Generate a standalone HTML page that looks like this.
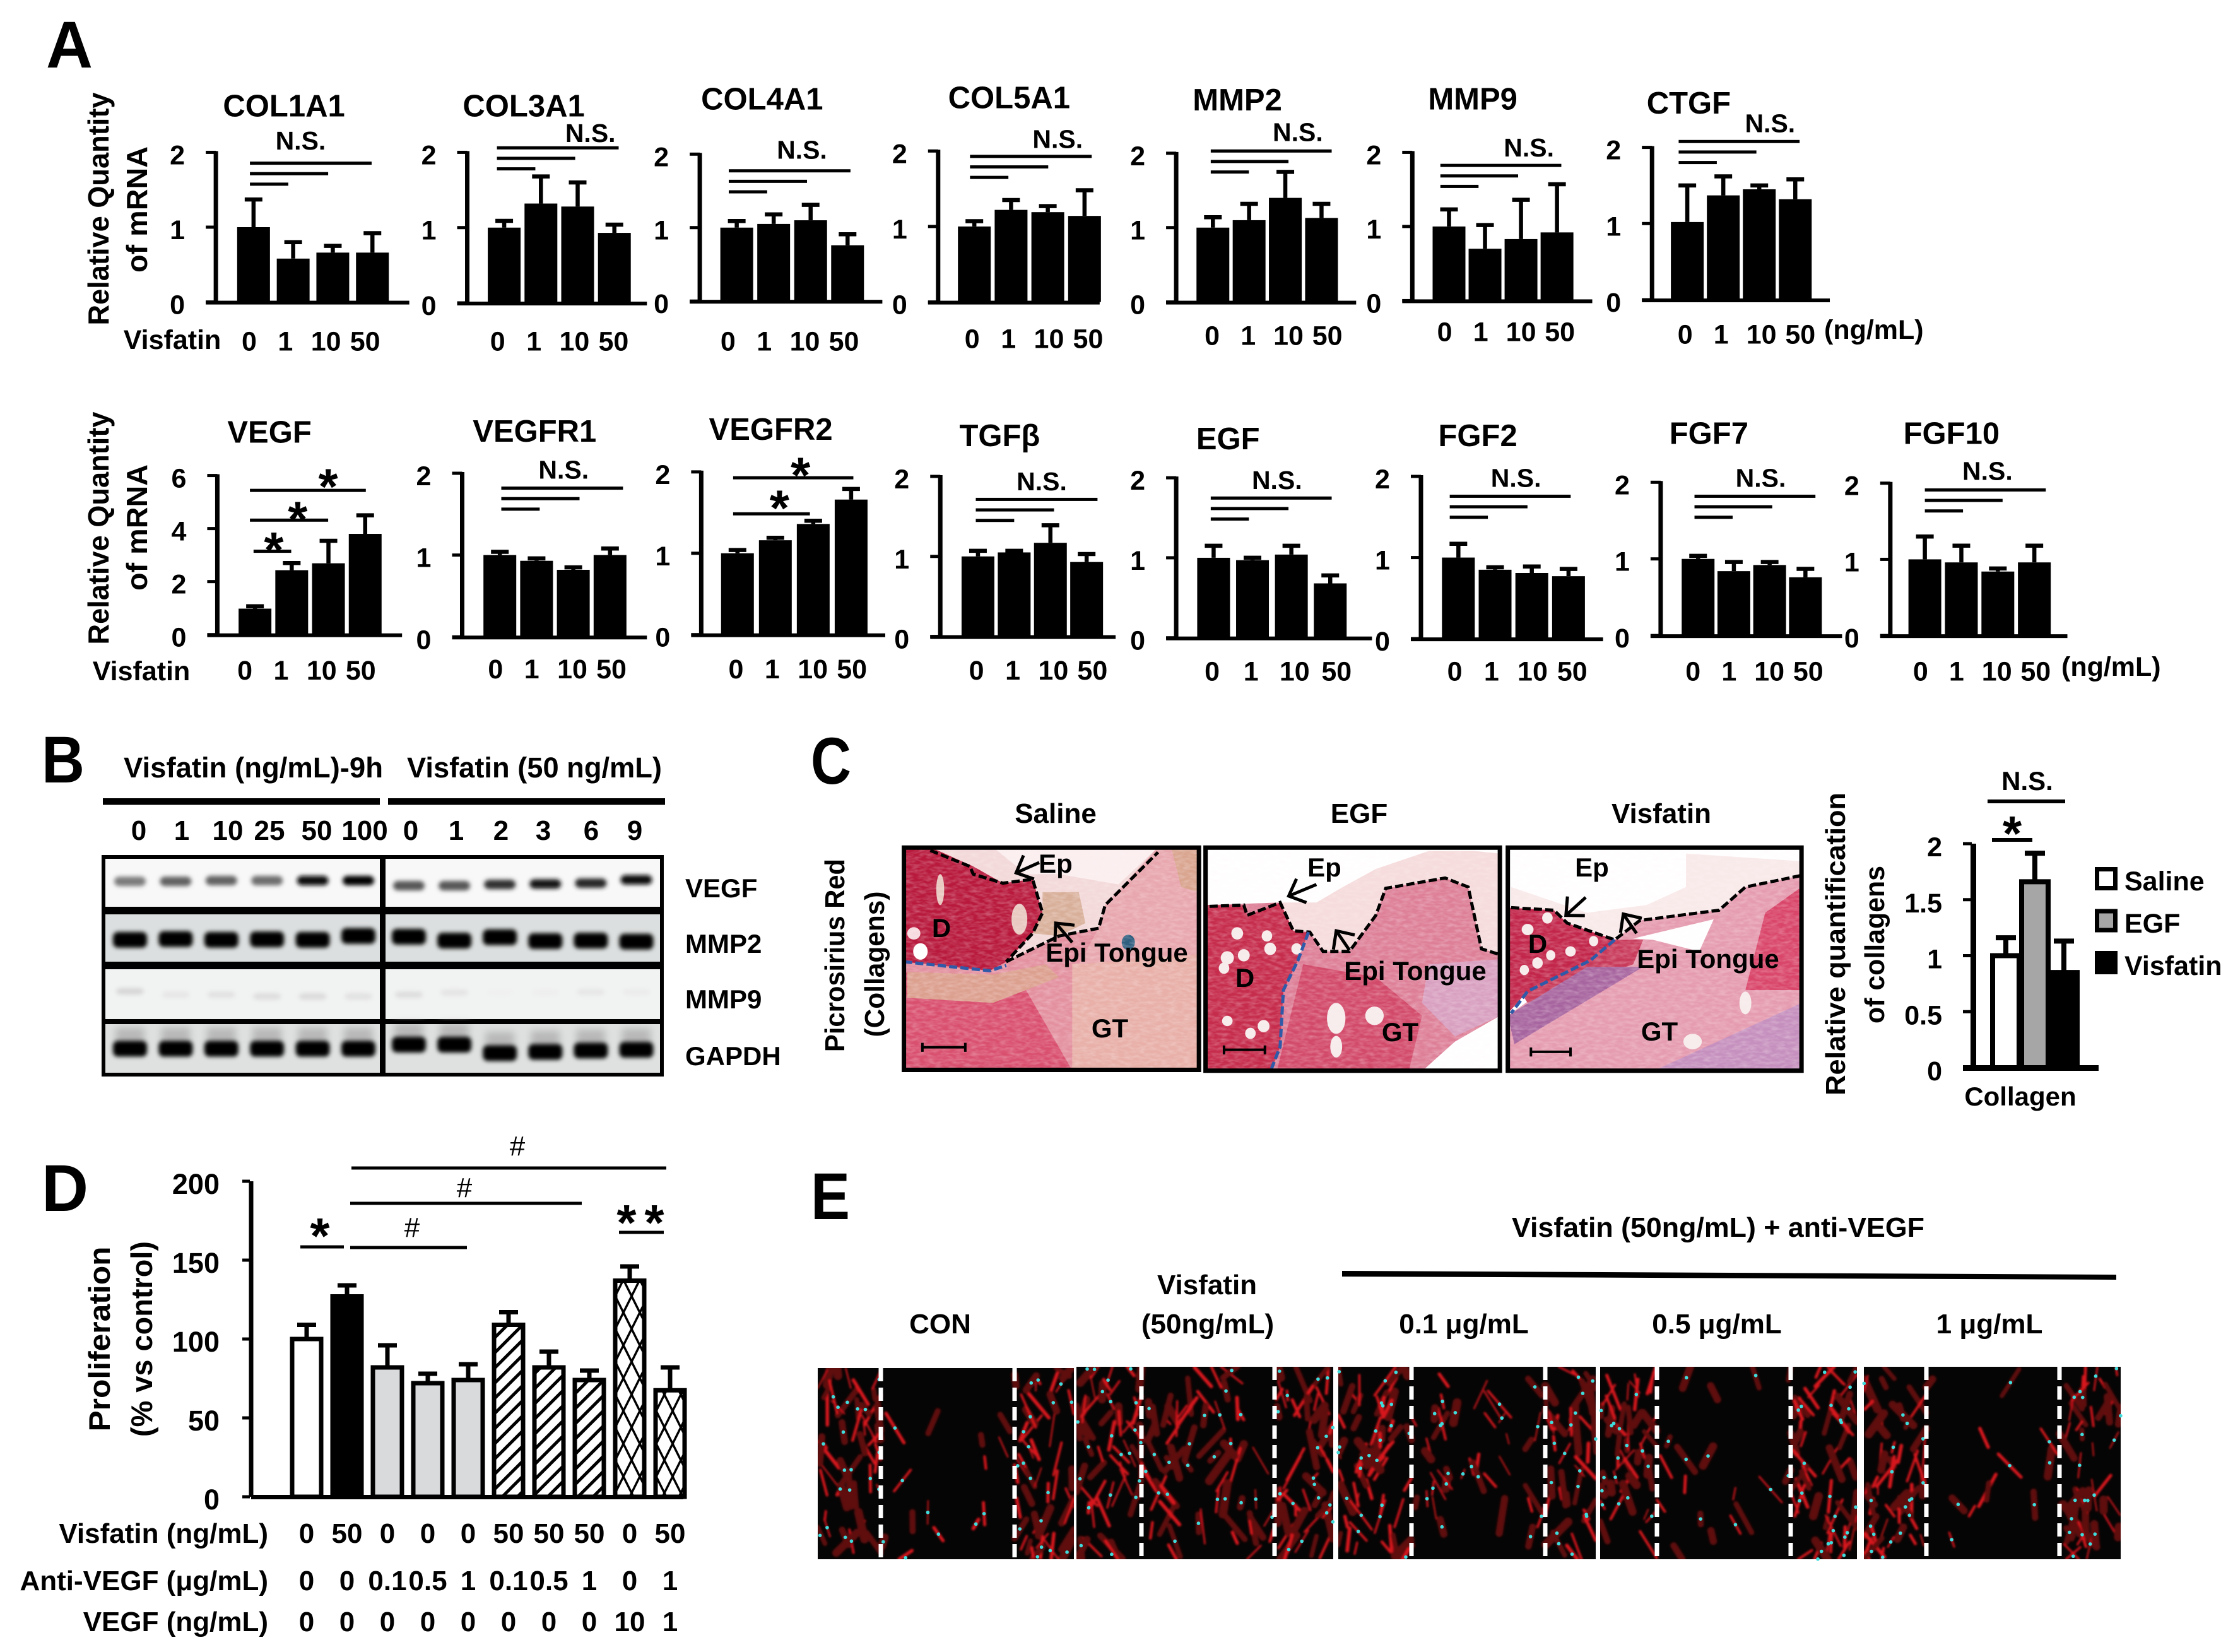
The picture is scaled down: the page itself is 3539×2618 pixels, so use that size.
<!DOCTYPE html>
<html lang="en">
<head>
<meta charset="utf-8">
<title>Visfatin figure</title>
<style>
html,body{margin:0;padding:0;background:#fff;overflow:hidden}
svg{display:block}
text{font-family:"Liberation Sans",sans-serif;font-weight:bold;fill:#000}
</style>
</head>
<body>
<svg id="figure" xmlns="http://www.w3.org/2000/svg" width="3539" height="2618" viewBox="0 0 3539 2618">
<defs>
  <pattern id="hatch" patternUnits="userSpaceOnUse" width="24" height="24">
    <path d="M-6 6L6 -6M-6 30L30 -6M18 30L30 18" stroke="#000" stroke-width="5" fill="none"/>
  </pattern>
  <pattern id="cross" patternUnits="userSpaceOnUse" width="26" height="52">
    <path d="M0 0L26 52M26 0L0 52" stroke="#000" stroke-width="3.5" fill="none"/>
  </pattern>
  <filter id="blur" x="-40%" y="-80%" width="180%" height="260%"><feGaussianBlur stdDeviation="3.5"/></filter>
  <filter id="smear" x="-40%" y="-80%" width="180%" height="260%"><feGaussianBlur stdDeviation="6"/></filter>
  <filter id="cellblur" x="0" y="0" width="100%" height="100%"><feGaussianBlur stdDeviation="1.6"/></filter>
  <filter id="tex" x="0" y="0" width="100%" height="100%">
    <feTurbulence type="fractalNoise" baseFrequency="0.09" numOctaves="2" seed="7"/>
    <feColorMatrix type="matrix" values="0 0 0 0 1  0 0 0 0 0.9  0 0 0 0 0.92  1.6 0 0 0 -0.55"/>
  </filter>
  <clipPath id="clip1"><rect x="165" y="545" width="447" height="867"/></clipPath>
  <clipPath id="clip2"><rect x="622" y="545" width="446" height="870"/></clipPath>
  <clipPath id="clip3"><rect x="1080" y="545" width="445" height="870"/></clipPath>
</defs>
<rect width="3539" height="2618" fill="#fff"/>

<!-- panel letters -->
<g>
  <text x="73" y="107" font-size="105" textLength="74" lengthAdjust="spacingAndGlyphs">A</text>
  <text x="66" y="1240" font-size="105" textLength="68" lengthAdjust="spacingAndGlyphs">B</text>
  <text x="1285" y="1242" font-size="105" textLength="64" lengthAdjust="spacingAndGlyphs">C</text>
  <text x="66" y="1919" font-size="105" textLength="74" lengthAdjust="spacingAndGlyphs">D</text>
  <text x="1285" y="1932" font-size="105" textLength="62" lengthAdjust="spacingAndGlyphs">E</text>
</g>

<!-- panel A -->
<g id="panelA"></g>

<!-- panel B -->
<g id="panelB">
  <text x="196" y="1232" font-size="45" textLength="411" lengthAdjust="spacingAndGlyphs">Visfatin (ng/mL)-9h</text>
  <text x="645" y="1232" font-size="45" textLength="404" lengthAdjust="spacingAndGlyphs">Visfatin (50 ng/mL)</text>
  <rect x="163" y="1265" width="439" height="10.5" fill="#000"/>
  <rect x="615" y="1265" width="439" height="10.5" fill="#000"/>
  <text x="1086" y="1422" font-size="42">VEGF</text>
  <text x="1086" y="1510" font-size="42">MMP2</text>
  <text x="1086" y="1598" font-size="42">MMP9</text>
  <text x="1086" y="1688" font-size="42">GAPDH</text>
</g>

<!-- panel C histology -->
<g id="panelC">
  <text x="1673" y="1304" font-size="44" text-anchor="middle">Saline</text>
  <text x="2154" y="1304" font-size="44" text-anchor="middle">EGF</text>
  <text x="2633" y="1304" font-size="44" text-anchor="middle">Visfatin</text>
  <text transform="translate(1338 1514) rotate(-90)" font-size="44" text-anchor="middle" textLength="306" lengthAdjust="spacingAndGlyphs">Picrosirius Red</text>
  <text transform="translate(1401 1528) rotate(-90)" font-size="44" text-anchor="middle" textLength="231" lengthAdjust="spacingAndGlyphs">(Collagens)</text>

  <g transform="translate(1260 1120) scale(1.046 0.40816)">
    <g clip-path="url(#clip1)">
      <rect x="165" y="545" width="447" height="867" fill="#e3909f"/>
      <polygon fill="#d9506f" points="165,1030 350,1100 420,1412 165,1412"/>
      <polygon fill="#dca08f" points="170,1030 300,1040 380,1000 400,1050 300,1150 170,1130"/>
      <polygon fill="#e8b0a8" points="420,1000 612,960 612,1412 420,1412"/>
      <polygon fill="#e8a7ae" points="550,545 612,545 612,960 430,1000 460,860 470,770"/>
      <polygon fill="#d9a58f" points="570,545 612,545 612,720 585,700"/>
      <polygon fill="#f3d9d9" points="205,545 550,545 470,770 460,860 400,890 320,990 360,880 375,800 360,670 315,685 265,620"/>
      <polygon fill="#fbeff0" points="300,545 550,545 490,690 400,650 350,650"/>
      <polygon fill="#d8b09a" points="375,720 430,720 440,840 400,890 360,880 375,800"/>
      <polygon fill="#b8193c" points="165,545 205,545 270,620 315,685 360,670 375,800 360,880 320,990 295,1025 165,990"/>
      <ellipse cx="220" cy="710" rx="6" ry="60" fill="#e8c8c0"/>
      <ellipse cx="340" cy="825" rx="12" ry="60" fill="#e8c8c0"/>
      <ellipse cx="190" cy="950" rx="11" ry="32" fill="#fff"/>
      <ellipse cx="180" cy="880" rx="10" ry="24" fill="#f6dce0"/>
      <ellipse cx="505" cy="915" rx="10" ry="30" fill="#2f5f7f"/>
      <rect x="165" y="545" width="447" height="867" filter="url(#tex)" opacity="0.35"/>
    </g>
    <g clip-path="url(#clip2)">
      <rect x="622" y="545" width="446" height="870" fill="#fff"/>
      <polygon fill="#f6dcdc" points="755,870 780,875 800,950 840,950 880,810 895,705 985,665 1020,700 1040,940 1068,960 1068,570 1030,560 960,560 880,630 830,700 790,760 735,760"/>
      <polygon fill="#dd7f97" points="625,770 735,760 755,870 780,875 800,950 840,950 880,810 895,705 985,665 1020,700 1040,940 1068,960 1068,1200 1000,1300 950,1415 622,1415"/>
      <polygon fill="#d24a6a" points="770,1000 880,1050 950,1200 930,1415 730,1415"/>
      <polygon fill="#d8a0c0" points="960,1000 1068,980 1068,1200 1000,1280 950,1150"/>
      <polygon fill="#c62c4c" points="622,770 680,770 685,810 735,760 755,870 778,875 762,985 740,1100 735,1320 722,1415 622,1415"/>
      <g fill="#f7ecec">
        <ellipse cx="670" cy="880" rx="9" ry="24"/><ellipse cx="715" cy="890" rx="8" ry="22"/>
        <ellipse cx="720" cy="940" rx="9" ry="24"/><ellipse cx="655" cy="975" rx="10" ry="26"/>
        <ellipse cx="680" cy="965" rx="9" ry="24"/><ellipse cx="650" cy="1015" rx="8" ry="22"/>
        <ellipse cx="710" cy="1240" rx="9" ry="24"/><ellipse cx="655" cy="1220" rx="8" ry="20"/>
        <ellipse cx="690" cy="1268" rx="8" ry="22"/><ellipse cx="760" cy="940" rx="8" ry="22"/>
        <ellipse cx="820" cy="1210" rx="14" ry="60"/><ellipse cx="878" cy="1200" rx="14" ry="36"/>
        <ellipse cx="820" cy="1320" rx="9" ry="42"/>
      </g>
      <rect x="622" y="545" width="446" height="870" filter="url(#tex)" opacity="0.35"/>
    </g>
    <g clip-path="url(#clip3)">
      <rect x="1080" y="545" width="445" height="870" fill="#fff"/>
      <polygon fill="#f9eaea" points="1085,700 1085,780 1150,790 1170,840 1242,905 1280,830 1400,790 1440,700 1525,655 1525,600 1350,570 1350,700 1290,770 1200,800"/>
      <polygon fill="#e59cb0" points="1085,1190 1242,905 1280,830 1400,790 1440,700 1525,655 1525,1415 1080,1415"/>
      <polygon fill="#c83a5a" points="1242,905 1285,905 1270,1000 1110,1150 1100,1110"/>
      <polygon fill="#d9466a" points="1470,800 1525,700 1525,1100 1440,1100"/>
      <polygon fill="#c58fbe" points="1300,1415 1525,1150 1525,1415"/>
      <polygon fill="#a7659f" points="1080,1200 1200,1010 1285,1010 1090,1310"/>
      <polygon fill="#ffffff" points="1270,900 1392,825 1370,950 1300,905"/>
      <polygon fill="#c2264a" points="1080,780 1150,790 1170,840 1242,905 1200,985 1110,1105 1080,1190"/>
      <g fill="#f7ecec">
        <ellipse cx="1140" cy="820" rx="8" ry="22"/><ellipse cx="1110" cy="865" rx="9" ry="22"/>
        <ellipse cx="1210" cy="910" rx="7" ry="20"/><ellipse cx="1175" cy="950" rx="8" ry="20"/>
        <ellipse cx="1145" cy="965" rx="7" ry="20"/><ellipse cx="1125" cy="995" rx="8" ry="22"/>
        <ellipse cx="1105" cy="1022" rx="7" ry="20"/><ellipse cx="1360" cy="1300" rx="14" ry="30"/>
        <ellipse cx="1440" cy="1150" rx="9" ry="44"/>
      </g>
      <rect x="1080" y="545" width="445" height="870" filter="url(#tex)" opacity="0.35"/>
    </g>
    <g fill="none" stroke-dasharray="13 5">
      <polyline vector-effect="non-scaling-stroke" stroke="#000" stroke-width="5" points="205,558 265,620 270,650 315,685 360,670 375,800 360,880 320,990"/>
      <polyline vector-effect="non-scaling-stroke" stroke="#000" stroke-width="5" points="320,990 400,890 460,860 470,770 550,565"/>
      <polyline vector-effect="non-scaling-stroke" stroke="#000" stroke-width="5" points="628,775 680,770 685,810 735,760 755,870 780,875 800,950 840,950 880,810 895,705 985,665 1020,700 1040,940 1065,960"/>
      <polyline vector-effect="non-scaling-stroke" stroke="#000" stroke-width="5" points="1085,780 1150,790 1170,840 1242,905 1280,830 1400,790 1440,700 1525,655"/>
      <polyline vector-effect="non-scaling-stroke" stroke="#2f5aa8" stroke-width="5" points="165,990 295,1025 320,1005"/>
      <polyline vector-effect="non-scaling-stroke" stroke="#2f5aa8" stroke-width="5" points="778,875 762,985 740,1100 735,1320 722,1405"/>
      <polyline vector-effect="non-scaling-stroke" stroke="#2f5aa8" stroke-width="5" points="1242,905 1205,985 1110,1105 1085,1190"/>
    </g>
    <g fill="none" stroke="#000">
      <path vector-effect="non-scaling-stroke" stroke-width="4" d="M193 1322H258M193 1305V1340M258 1305V1340"/>
      <path vector-effect="non-scaling-stroke" stroke-width="4" d="M650 1332H712M650 1315V1350M712 1315V1350"/>
      <path vector-effect="non-scaling-stroke" stroke-width="4" d="M1115 1340H1175M1115 1323V1358M1175 1323V1358"/>
      <rect vector-effect="non-scaling-stroke" stroke-width="7" x="165" y="547" width="447" height="863"/>
      <rect vector-effect="non-scaling-stroke" stroke-width="7" x="622" y="547" width="446" height="866"/>
      <rect vector-effect="non-scaling-stroke" stroke-width="7" x="1080" y="547" width="445" height="866"/>
    </g>
  </g>
  <g id="histologyArrows"></g>
  <text x="1673" y="1383" font-size="42" text-anchor="middle">Ep</text>
  <text x="1492" y="1485" font-size="42" text-anchor="middle">D</text>
  <text x="1770" y="1524" font-size="42" text-anchor="middle">Epi Tongue</text>
  <text x="1759" y="1644" font-size="42" text-anchor="middle">GT</text>
  <text x="2099" y="1389" font-size="42" text-anchor="middle">Ep</text>
  <text x="1973" y="1564" font-size="42" text-anchor="middle">D</text>
  <text x="2243" y="1553" font-size="42" text-anchor="middle">Epi Tongue</text>
  <text x="2219" y="1650" font-size="42" text-anchor="middle">GT</text>
  <text x="2523" y="1389" font-size="42" text-anchor="middle">Ep</text>
  <text x="2437" y="1510" font-size="42" text-anchor="middle">D</text>
  <text x="2707" y="1534" font-size="42" text-anchor="middle">Epi Tongue</text>
  <text x="2630" y="1649" font-size="42" text-anchor="middle">GT</text>
</g>

<!-- panel C chart -->
<g id="panelCChart">
  <text transform="translate(2924 1496) rotate(-90)" font-size="44" text-anchor="middle" textLength="480" lengthAdjust="spacingAndGlyphs">Relative quantification</text>
  <text transform="translate(2986 1497) rotate(-90)" font-size="44" text-anchor="middle" textLength="250" lengthAdjust="spacingAndGlyphs">of collagens</text>
  <text x="3202" y="1752" font-size="42" text-anchor="middle">Collagen</text>
</g>

<!-- panel D -->
<g id="panelD">
  <text transform="translate(174 2122) rotate(-90)" font-size="47" text-anchor="middle" textLength="293" lengthAdjust="spacingAndGlyphs">Proliferation</text>
  <text transform="translate(241 2122) rotate(-90)" font-size="47" text-anchor="middle" textLength="310" lengthAdjust="spacingAndGlyphs">(% vs control)</text>
  <text x="425" y="2445" font-size="44" text-anchor="end">Visfatin (ng/mL)</text>
  <text x="425" y="2520" font-size="44" text-anchor="end">Anti-VEGF (μg/mL)</text>
  <text x="425" y="2585" font-size="44" text-anchor="end">VEGF (ng/mL)</text>
</g>

<!-- panel E -->
<g id="panelE">
  <text x="2723" y="1960" font-size="44" text-anchor="middle" textLength="654" lengthAdjust="spacingAndGlyphs">Visfatin (50ng/mL) + anti-VEGF</text>
  <polygon points="2127,2014 3354,2020 3354,2028 2127,2023" fill="#000"/>
  <text x="1490" y="2113" font-size="44" text-anchor="middle">CON</text>
  <text x="1913" y="2051" font-size="44" text-anchor="middle">Visfatin</text>
  <text x="1914" y="2113" font-size="44" text-anchor="middle">(50ng/mL)</text>
  <text x="2320" y="2113" font-size="44" text-anchor="middle">0.1 μg/mL</text>
  <text x="2721" y="2113" font-size="44" text-anchor="middle">0.5 μg/mL</text>
  <text x="3153" y="2113" font-size="44" text-anchor="middle">1 μg/mL</text>
</g>
</svg>

<script>
/* ---------- panel A data ---------- */
const doseLabels = ['0', '1', '10', '50'];
const unitTicks = ['0', '1', '2'];
const vegfTicks = ['0', '2', '4', '6'];

const col1a1Values = [1.0, 0.58, 0.66, 0.66];
const col1a1Errors = [0.37, 0.22, 0.09, 0.26];
const col3a1Values = [1.0, 1.32, 1.28, 0.93];
const col3a1Errors = [0.09, 0.36, 0.32, 0.11];
const col4a1Values = [1.0, 1.05, 1.1, 0.76];
const col4a1Errors = [0.09, 0.13, 0.21, 0.15];
const col5a1Values = [1.0, 1.22, 1.19, 1.14];
const col5a1Errors = [0.07, 0.13, 0.08, 0.34];
const mmp2Values = [1.0, 1.1, 1.4, 1.13];
const mmp2Errors = [0.14, 0.22, 0.35, 0.19];
const mmp9Values = [1.0, 0.7, 0.83, 0.92];
const mmp9Errors = [0.23, 0.32, 0.53, 0.65];
const ctgfValues = [1.02, 1.37, 1.45, 1.32];
const ctgfErrors = [0.48, 0.25, 0.05, 0.26];
const vegfValues = [0.98, 2.43, 2.69, 3.8];
const vegfErrors = [0.09, 0.27, 0.85, 0.7];
const vegfr1Values = [1.0, 0.93, 0.82, 1.0];
const vegfr1Errors = [0.04, 0.03, 0.03, 0.08];
const vegfr2Values = [1.0, 1.16, 1.36, 1.66];
const vegfr2Errors = [0.04, 0.03, 0.04, 0.13];
const tgfbValues = [1.0, 1.05, 1.17, 0.93];
const tgfbErrors = [0.07, 0.02, 0.22, 0.1];
const egfValues = [1.0, 0.97, 1.04, 0.68];
const egfErrors = [0.15, 0.03, 0.11, 0.1];
const fgf2Values = [1.0, 0.85, 0.81, 0.77];
const fgf2Errors = [0.17, 0.03, 0.08, 0.09];
const fgf7Values = [1.0, 0.84, 0.92, 0.76];
const fgf7Errors = [0.04, 0.12, 0.04, 0.11];
const fgf10Values = [1.0, 0.96, 0.84, 0.96];
const fgf10Errors = [0.3, 0.22, 0.04, 0.22];

/* ---------- panel B data ---------- */
const gelTopLabels = ['0', '1', '10', '25', '50', '100', '0', '1', '2', '3', '6', '9'];
const vegfBandDarkness = [0.5, 0.6, 0.6, 0.55, 0.95, 1, 0.65, 0.65, 0.8, 0.9, 0.85, 0.95];
const mmp2BandDarkness = [1, 1, 1, 1, 1, 1, 1, 1, 1, 1, 1, 1];
const mmp9BandDarkness = [0.13, 0.06, 0.08, 0.1, 0.11, 0.08, 0.1, 0.07, 0.02, 0.03, 0.06, 0.04];
const gapdhBandDarkness = [1, 1, 1, 1, 1, 1, 1, 1, 1, 1, 1, 1];

/* ---------- panel C chart data ---------- */
const collagenLabels = ['Saline', 'EGF', 'Visfatin'];
const collagenValues = [1.0, 1.66, 0.85];
const collagenErrors = [0.16, 0.255, 0.28];
const collagenTicks = ['0', '0.5', '1', '1.5', '2'];

/* ---------- panel D data ---------- */
const proliferationGroups = ['control', 'visfatin', 'antibody', 'antibody', 'antibody', 'combo', 'combo', 'combo', 'vegf', 'vegf'];
const proliferationValues = [100, 127, 82, 72, 74, 109, 82, 74, 137, 67.5];
const proliferationErrors = [9, 7, 14, 6, 10, 8, 10, 6, 9, 14.5];
const proliferationTicks = ['0', '50', '100', '150', '200'];
const visfatinDoses = ['0', '50', '0', '0', '0', '50', '50', '50', '0', '50'];
const antiVegfDoses = ['0', '0', '0.1', '0.5', '1', '0.1', '0.5', '1', '0', '1'];
const vegfDoses = ['0', '0', '0', '0', '0', '0', '0', '0', '10', '1'];

/* ---------- helpers ---------- */
const SVGNS = 'http://www.w3.org/2000/svg';
function mk(parent, tag, attrs, content) {
  const el = document.createElementNS(SVGNS, tag);
  for (const k in attrs) el.setAttribute(k, attrs[k]);
  if (content !== undefined) el.textContent = content;
  parent.appendChild(el);
  return el;
}
function label(parent, s, x, y, size, anchor) {
  return mk(parent, 'text', {x: x, y: y, 'font-size': size, 'text-anchor': anchor || 'middle'}, s);
}
function box(parent, x, y, w, h, fill) {
  return mk(parent, 'rect', {x: x, y: y, width: w, height: h, fill: fill || '#000'});
}
function starGlyph(parent, x, cy, size) {
  return label(parent, '*', x, cy + 0.56 * size, size);
}

/* Layout for panel A is measured in crop units of these two views */
const viewLeft = {ox: 0, oy: 0, sx: 0.871, sy: 1.4};
const viewRight = {ox: 1750, oy: 0, sx: 0.8765, sy: 1.4};
const doseSlot = [0, 1, 2.12, 3.2];
const panelA = document.getElementById('panelA');

function drawMrnaChart(v, o) {
  const px = d => v.ox + d / v.sx;
  const py = d => v.oy + d / v.sy;
  const g = mk(panelA, 'g', {});
  
  
  const maxVal = Number(o.ticks[o.ticks.length - 1]);
  const yScale = val => py(o.yBottom) - (val / maxVal) * (py(o.yBottom) - py(o.yTop));
  const xScale = i => px(o.bar0) + i * o.barStep / v.sx;
  const barW = 52, axisX = px(o.axisX);

  o.values.forEach((val, i) => {
    const cx = xScale(i);
    const bar = box(g, cx - barW / 2, yScale(val), barW, yScale(0) - yScale(val));
    
    
    const top = yScale(val + o.errors[i]);
    const err = mk(g, 'path', {d: 'M' + cx + ' ' + yScale(val) + 'V' + top + 'M' + (cx - 14) + ' ' + top + 'H' + (cx + 14), stroke: '#000', 'stroke-width': 6.5, fill: 'none'});
    
    
  });

  const yAxis = box(g, axisX - 3.5, yScale(maxVal) - 2, 7, yScale(0) - yScale(maxVal) + 4);
  
  
  const xAxis = box(g, axisX - 16, yScale(0) - 2, px(o.xEnd) - axisX + 16, 6);
  
  

  o.ticks.forEach(t => {
    const y = yScale(Number(t));
    const tick = box(g, axisX - 16, y - 2.5, 16, 5);
    
    
    const tl = label(g, t, axisX - 61, y + 19, 43);
    
    
  });

  doseLabels.forEach((t, i) => {
    const step = (o.labelStep || 50) / v.sx;
    const xl = label(g, t, px(o.labelX) + step * doseSlot[i], py(o.labelY), 43);
    
    
  });

  const title = label(g, o.title, px(o.titleX), py(o.titleY), 49);
  
  

  if (o.nsX) {
    const ns = label(g, 'N.S.', px(o.nsX), py(o.nsY), 41);
    
    
    [168, 108, 53].forEach((len, i) => {
      const ln = box(g, px(o.sigX), py(o.sigY + i * 23.3) - 2.5, len / v.sx, 5);
      
      
    });
  }
  return {g: g, px: px, py: py};
}
function annotate(c, lines, stars) {
  lines.forEach(l => {
    const ln = box(c.g, c.px(l[0]), c.py(l[2]) - 2.5, c.px(l[1]) - c.px(l[0]), 5);
    
    
  });
  stars.forEach(s => {
    const st = starGlyph(c.g, c.px(s[0]), c.py(s[1]), 80);
    
    
  });
}
function rotatedLabel(parent, s, x, y, size, len) {
  return mk(parent, 'text', {transform: 'translate(' + x + ' ' + y + ') rotate(-90)', 'font-size': size, 'text-anchor': 'middle', textLength: len, lengthAdjust: 'spacingAndGlyphs'}, s);
}

/* ---------- panel A: row 1 ---------- */
drawMrnaChart(viewLeft, {key: 'col1a1', title: 'COL1A1', values: col1a1Values, errors: col1a1Errors, ticks: unitTicks, axisX: 298, yTop: 338, yBottom: 670, xEnd: 565, bar0: 350, barStep: 54.7, titleX: 392, titleY: 258, nsX: 415, nsY: 332, sigX: 345, sigY: 362, labelX: 344, labelY: 778});
drawMrnaChart(viewLeft, {key: 'col3a1', title: 'COL3A1', values: col3a1Values, errors: col3a1Errors, ticks: unitTicks, axisX: 645, yTop: 338, yBottom: 672, xEnd: 893, bar0: 696, barStep: 50.7, titleX: 723, titleY: 258, nsX: 815, nsY: 315, sigX: 686, sigY: 328, labelX: 687, labelY: 778});
drawMrnaChart(viewLeft, {key: 'col4a1', title: 'COL4A1', values: col4a1Values, errors: col4a1Errors, ticks: unitTicks, axisX: 966, yTop: 342, yBottom: 668, xEnd: 1218, bar0: 1017, barStep: 51, titleX: 1052, titleY: 243, nsX: 1107, nsY: 352, sigX: 1006, sigY: 379, labelX: 1005, labelY: 778});
drawMrnaChart(viewLeft, {key: 'col5a1', title: 'COL5A1', values: col5a1Values, errors: col5a1Errors, ticks: unitTicks, axisX: 1295, yTop: 335, yBottom: 670, xEnd: 1518, bar0: 1345, barStep: 50.7, titleX: 1393, titleY: 240, nsX: 1460, nsY: 328, sigX: 1339, sigY: 347, labelX: 1342, labelY: 772});
drawMrnaChart(viewRight, {key: 'mmp2', title: 'MMP2', values: mmp2Values, errors: mmp2Errors, ticks: unitTicks, axisX: 100, yTop: 340, yBottom: 670, xEnd: 350, bar0: 151, barStep: 50.3, titleX: 185, titleY: 245, nsX: 269, nsY: 313, sigX: 148, sigY: 335, labelX: 150, labelY: 765});
drawMrnaChart(viewRight, {key: 'mmp9', title: 'MMP9', values: mmp9Values, errors: mmp9Errors, ticks: unitTicks, axisX: 428, yTop: 338, yBottom: 667, xEnd: 678, bar0: 479, barStep: 50, titleX: 512, titleY: 243, nsX: 590, nsY: 347, sigX: 467, sigY: 367, labelX: 473, labelY: 757});
drawMrnaChart(viewRight, {key: 'ctgf', title: 'CTGF', values: ctgfValues, errors: ctgfErrors, ticks: unitTicks, axisX: 761, yTop: 327, yBottom: 665, xEnd: 1008, bar0: 810, barStep: 50, titleX: 812, titleY: 252, nsX: 925, nsY: 293, sigX: 798, sigY: 314, labelX: 807, labelY: 762});

/* ---------- panel A: row 2 ---------- */
const vegfChart = drawMrnaChart(viewLeft, {key: 'vegf', title: 'VEGF', values: vegfValues, errors: vegfErrors, ticks: vegfTicks, axisX: 300, yTop: 1055, yBottom: 1408, xEnd: 555, bar0: 352, barStep: 50.7, titleX: 372, titleY: 982, labelX: 338, labelY: 1508});
annotate(vegfChart, [[345, 505, 1088], [345, 453, 1154], [350, 402, 1223]], [[453, 1055], [411, 1128], [378, 1196]]);
drawMrnaChart(viewLeft, {key: 'vegfr1', title: 'VEGFR1', values: vegfr1Values, errors: vegfr1Errors, ticks: unitTicks, axisX: 638, yTop: 1050, yBottom: 1413, xEnd: 893, bar0: 690, barStep: 50.7, titleX: 738, titleY: 980, nsX: 778, nsY: 1062, sigX: 692, sigY: 1083, labelX: 684, labelY: 1505});
const vegfr2Chart = drawMrnaChart(viewLeft, {key: 'vegfr2', title: 'VEGFR2', values: vegfr2Values, errors: vegfr2Errors, ticks: unitTicks, axisX: 968, yTop: 1047, yBottom: 1408, xEnd: 1222, bar0: 1018, barStep: 52.3, titleX: 1064, titleY: 976, labelX: 1016, labelY: 1505});
annotate(vegfr2Chart, [[1012, 1178, 1060], [1012, 1118, 1140]], [[1105, 1030], [1076, 1103]]);
drawMrnaChart(viewLeft, {key: 'tgfb', title: 'TGFβ', values: tgfbValues, errors: tgfbErrors, ticks: unitTicks, axisX: 1298, yTop: 1057, yBottom: 1412, xEnd: 1540, bar0: 1350, barStep: 50, titleX: 1380, titleY: 990, nsX: 1438, nsY: 1088, sigX: 1347, sigY: 1108, labelX: 1348, labelY: 1508});
drawMrnaChart(viewRight, {key: 'egf', title: 'EGF', values: egfValues, errors: egfErrors, ticks: unitTicks, axisX: 100, yTop: 1060, yBottom: 1415, xEnd: 372, bar0: 152, barStep: 54, titleX: 172, titleY: 997, nsX: 240, nsY: 1085, sigX: 148, sigY: 1105, labelX: 150, labelY: 1510, labelStep: 54});
drawMrnaChart(viewRight, {key: 'fgf2', title: 'FGF2', values: fgf2Values, errors: fgf2Errors, ticks: unitTicks, axisX: 440, yTop: 1057, yBottom: 1417, xEnd: 693, bar0: 492, barStep: 51, titleX: 519, titleY: 990, nsX: 572, nsY: 1080, sigX: 480, sigY: 1101, labelX: 487, labelY: 1510, labelStep: 51});
drawMrnaChart(viewRight, {key: 'fgf7', title: 'FGF7', values: fgf7Values, errors: fgf7Errors, ticks: unitTicks, axisX: 773, yTop: 1070, yBottom: 1410, xEnd: 1025, bar0: 825, barStep: 49.7, titleX: 840, titleY: 985, nsX: 912, nsY: 1080, sigX: 820, sigY: 1101, labelX: 818, labelY: 1510});
drawMrnaChart(viewRight, {key: 'fgf10', title: 'FGF10', values: fgf10Values, errors: fgf10Errors, ticks: unitTicks, axisX: 1092, yTop: 1072, yBottom: 1410, xEnd: 1338, bar0: 1140, barStep: 50.7, titleX: 1177, titleY: 985, nsX: 1227, nsY: 1065, sigX: 1140, sigY: 1087, labelX: 1134, labelY: 1510});

const yTitleTop = rotatedLabel(panelA, 'Relative Quantity', 172, 331, 46, 369);


const ySubTop = rotatedLabel(panelA, 'of  mRNA', 233, 332, 46, 200);


const yTitleBottom = rotatedLabel(panelA, 'Relative Quantity', 172, 837, 46, 369);


const ySubBottom = rotatedLabel(panelA, 'of  mRNA', 233, 836, 46, 200);



const visTop = label(panelA, 'Visfatin', 273, 553, 43);


const visBottom = label(panelA, 'Visfatin', 224, 1078, 43);


const unitTop = label(panelA, '(ng/mL)', 2891, 537, 43, 'start');


const unitBottom = label(panelA, '(ng/mL)', 3267, 1071, 43, 'start');



/* ---------- panel B: gels ---------- */
const panelB = document.getElementById('panelB');
const laneX = i => (i < 6 ? 206 + 72.4 * i : 648 + 72.1 * (i - 6));
gelTopLabels.forEach((t, i) => {
  const tl = label(panelB, t, i < 6 ? 220 + (i === 1 ? -4 : 0) + [0, 72, 141, 207, 282, 358][i] : [651, 723, 794, 861, 937, 1006][i - 6], 1331, 44);
  
  
});
function gelRow(name, top, bottom, bg, darkness, rowYs, bandW, bandH, smear) {
  const g = mk(panelB, 'g', {});
  
  
  const left = box(g, 164, top, 441, bottom - top, bg);
  const right = box(g, 608, top, 441, bottom - top, bg);
  
  
  
  
  darkness.forEach((d, i) => {
    const y = 1120 + rowYs[i] / 2.45;
    const shade = Math.round(245 * (1 - d));
    if (smear) {
      mk(g, 'rect', {x: laneX(i) - bandW / 2 + 4, y: y - 34, width: bandW - 8, height: 28, fill: '#b8b8b8', filter: 'url(#smear)'});
    }
    const band = mk(g, 'rect', {x: laneX(i) - bandW / 2, y: y - bandH / 2, width: bandW, height: bandH, rx: 8, fill: 'rgb(' + shade + ',' + shade + ',' + shade + ')', filter: 'url(#blur)'});
    
    
  });
  [left, right].forEach(r => {
    const fr = mk(g, 'rect', {x: Number(r.getAttribute('x')), y: top, width: 441, height: bottom - top, fill: 'none', stroke: '#000', 'stroke-width': 6});
    
    
  });
}
gelRow('gel-row-vegf', 1358, 1440, '#f8f8f8', vegfBandDarkness, [678, 678, 675, 675, 675, 675, 695, 695, 690, 688, 685, 672], 50, 15, false);
gelRow('gel-row-mmp2', 1446, 1527, '#dcdfdf', mmp2BandDarkness, [905, 902, 905, 903, 905, 890, 893, 908, 895, 910, 908, 912], 54, 25, false);
gelRow('gel-row-mmp9', 1533, 1618, '#f1f2f2', mmp9BandDarkness, [1105, 1118, 1118, 1125, 1125, 1125, 1118, 1110, 1110, 1110, 1108, 1108], 44, 10, false);
gelRow('gel-row-gapdh', 1620, 1703, '#dfe1e1', gapdhBandDarkness, [1328, 1328, 1328, 1328, 1328, 1328, 1312, 1312, 1345, 1340, 1335, 1332], 54, 25, true);

/* ---------- panel C: histology arrows ---------- */
const arrowLayer = document.getElementById('histologyArrows');
function openArrow(tipX, tipY, tailX, tailY) {
  const cx = d => 1260 + d / 0.956, cy = d => 1120 + d / 2.45;
  const tx = cx(tipX), ty = cy(tipY), bx = cx(tailX), by = cy(tailY);
  const a = Math.atan2(by - ty, bx - tx), L = 30, s = 0.75;
  const d = 'M' + bx + ' ' + by + 'L' + tx + ' ' + ty +
    'M' + (tx + L * Math.cos(a + s)) + ' ' + (ty + L * Math.sin(a + s)) + 'L' + tx + ' ' + ty +
    'L' + (tx + L * Math.cos(a - s)) + ' ' + (ty + L * Math.sin(a - s));
  const p = mk(arrowLayer, 'path', {d: d, stroke: '#000', 'stroke-width': 5, fill: 'none'});
  
  
}
openArrow(335, 645, 370, 605);
openArrow(395, 840, 420, 915);
openArrow(748, 735, 790, 690);
openArrow(820, 870, 840, 945);
openArrow(1168, 810, 1198, 740);
openArrow(1255, 805, 1275, 880);

/* ---------- panel C: collagen chart ---------- */
const cChart = document.getElementById('panelCChart');
const cY = v => 1692 - (v / 2) * (1692 - 1337);
const cBarLeft = i => 3158 + i * 46;
const cBarFills = ['#fff', '#a6a6a6', '#000'];
collagenValues.forEach((v, i) => {
  const cx = cBarLeft(i) + 21;
  const top = cY(v + collagenErrors[i]);
  const err = mk(cChart, 'path', {d: 'M' + cx + ' ' + cY(v) + 'V' + top + 'M' + (cx - 16) + ' ' + top + 'H' + (cx + 16), stroke: '#000', 'stroke-width': 8, fill: 'none'});
  
  
  const bar = mk(cChart, 'rect', {x: cBarLeft(i), y: cY(v), width: 42, height: cY(0) - cY(v), fill: cBarFills[i], stroke: '#000', 'stroke-width': 8});
  
  
});
const cAxisY = box(cChart, 3123, 1337, 9, 355);


const cAxisX = box(cChart, 3111, 1688, 215, 9);


collagenTicks.forEach(t => {
  const y = cY(Number(t));
  const tick = box(cChart, 3111, y - 2.5, 14, 5);
  
  
  const tl = label(cChart, t, 3078, y + 20, 43, 'end');
  
  
});
collagenLabels.forEach((t, i) => {
  const sw = mk(cChart, 'rect', {x: 3323.5, y: 1377.5 + i * 66.5, width: 29, height: 30, fill: cBarFills[i], stroke: '#000', 'stroke-width': 7});
  
  
  const tl = label(cChart, t, 3367, 1411 + i * 67, 43, 'start');
  
  
});
const cNs = label(cChart, 'N.S.', 3213, 1252, 42);


const cNsLine = box(cChart, 3150, 1267, 123, 6);


const cStar = starGlyph(cChart, 3189, 1304, 78);


const cStarLine = box(cChart, 3157, 1328, 64, 6);



/* ---------- panel D: proliferation chart ---------- */
const panelD = document.getElementById('panelD');
const dY = v => 2372 - (v / 200) * (2372 - 1872);
const dX = i => 486 + i * 64;
const dFill = {control: '#fff', visfatin: '#000', antibody: '#d9dadc', combo: 'url(#hatch)', vegf: 'url(#cross)'};
proliferationValues.forEach((v, i) => {
  const cx = dX(i);
  const top = dY(v + proliferationErrors[i]);
  const err = mk(panelD, 'path', {d: 'M' + cx + ' ' + dY(v) + 'V' + top + 'M' + (cx - 15) + ' ' + top + 'H' + (cx + 15), stroke: '#000', 'stroke-width': 7, fill: 'none'});
  
  
  const bar = mk(panelD, 'rect', {x: cx - 23, y: dY(v), width: 46, height: dY(0) - dY(v), fill: dFill[proliferationGroups[i]], stroke: '#000', 'stroke-width': 7});
  
  
});
const dAxisY = box(panelD, 394.5, 1872, 7, 500);


const dAxisX = box(panelD, 398, 2369, 685, 7);


proliferationTicks.forEach(t => {
  const y = dY(Number(t));
  const tick = box(panelD, 384, y - 2.5, 12, 5);
  
  
  const tl = label(panelD, t, 348, y + 20, 45, 'end');
  
  
});
[[visfatinDoses, 2445], [antiVegfDoses, 2520], [vegfDoses, 2585]].forEach(row => {
  row[0].forEach((t, i) => {
    const tl = label(panelD, t, dX(i), row[1], 44);
    
    
  });
});
[[476, 545, 1976], [555, 740, 1977], [555, 922, 1907], [557, 1056, 1851], [981, 1052, 1953]].forEach(l => {
  const ln = box(panelD, l[0], l[2] - 2.5, l[1] - l[0], 5);
  
  
});
[[653, 1960], [736, 1897], [820, 1831]].forEach(h => {
  const tl = mk(panelD, 'text', {x: h[0], y: h[1], 'font-size': 44, 'text-anchor': 'middle', style: 'font-weight:normal'}, '#');
  
  
});
[[507, 1941], [993, 1920], [1037, 1920]].forEach(s => {
  const st = starGlyph(panelD, s[0], s[1], 80);
  
  
});

/* ---------- panel E: fluorescence images ---------- */
const panelE = document.getElementById('panelE');
let seed = 20240611;
function rnd() { seed = (seed * 1664525 + 1013904223) % 4294967296; return seed / 4294967296; }
const eFrames = [
  {x0: 1296, x1: 1702, d1: 1396, d2: 1608, top: 2168, gap: 14},
  {x0: 1706, x1: 2113, d1: 1809, d2: 2020, top: 2166, gap: 60},
  {x0: 2121, x1: 2529, d1: 2237, d2: 2449, top: 2166, gap: 38},
  {x0: 2536, x1: 2943, d1: 2626, d2: 2838, top: 2166, gap: 18},
  {x0: 2954, x1: 3361, d1: 3053, d2: 3264, top: 2166, gap: 12}
];
eFrames.forEach(f => {
  const g = mk(panelE, 'g', {});
  
  
  box(g, f.x0, f.top, f.x1 - f.x0, 2471 - f.top, '#050505');
  const cells = mk(g, 'g', {filter: 'url(#cellblur)'});
  const h = 2471 - f.top;
  function scatter(x0, x1, n) {
    for (let i = 0; i < n; i++) {
      const x = x0 + rnd() * (x1 - x0), y = f.top + rnd() * h;
      const a = (rnd() - 0.5) * 1.6, len = 14 + rnd() * 44;
      const dx = Math.sin(a) * len / 2, dy = Math.cos(a) * len / 2;
      const x1c = Math.max(x0, Math.min(x1, x - dx)), x2c = Math.max(x0, Math.min(x1, x + dx));
      const y1c = Math.max(f.top, y - dy), y2c = Math.min(2471, y + dy);
      const dim = rnd() < 0.4;
      mk(cells, 'line', {x1: x1c, y1: y1c, x2: x2c, y2: y2c, stroke: dim ? '#5e0a0d' : '#d8151b', 'stroke-width': dim ? 7 + rnd() * 7 : 2 + rnd() * 4, 'stroke-linecap': 'round'});
      if (rnd() < 0.4) {
        mk(g, 'circle', {cx: x, cy: y, r: 2.8, fill: '#3fdcdc'});
      }
    }
  }
  scatter(f.x0, f.d1, Math.round((f.d1 - f.x0) * 0.5));
  scatter(f.d1, f.d2, f.gap);
  scatter(f.d2, f.x1, Math.round((f.x1 - f.d2) * 0.5));
  [f.d1, f.d2].forEach(x => {
    const wound = mk(g, 'line', {x1: x, y1: f.top, x2: x, y2: 2471, stroke: '#fff', 'stroke-width': 7, 'stroke-dasharray': '21 10'});
    
    
  });
});
</script>
</body>
</html>
